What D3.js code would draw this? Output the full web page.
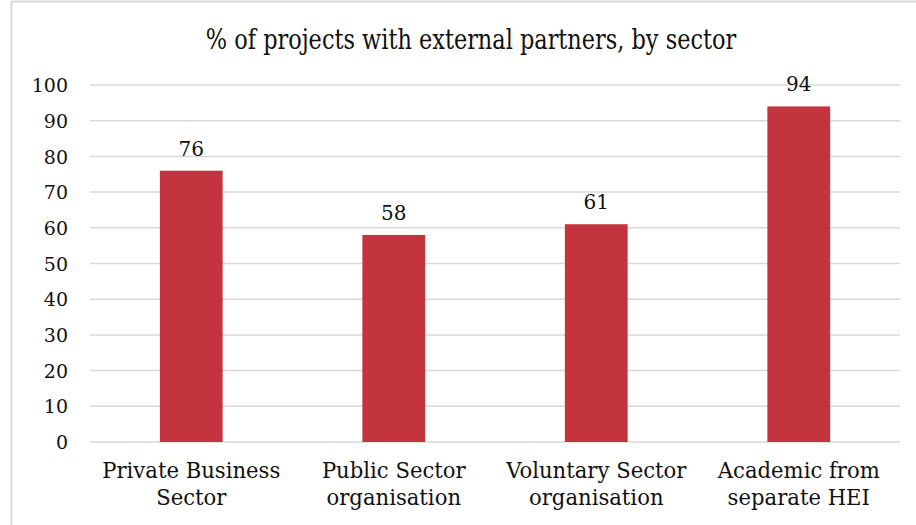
<!DOCTYPE html>
<html>
<head>
<meta charset="utf-8">
<script src="https://cdn.jsdelivr.net/npm/d3@7"></script>
<style>
  html, body { margin: 0; padding: 0; background: #fff; }
  svg { display: block; }
  text { font-family: "DejaVu Serif", serif; fill: #111; }
</style>
</head>
<body>
<svg id="chart" width="916" height="525"></svg>
<script>
// Share of projects with external partners, by partner sector
const categories = [
  ["Private Business", "Sector"],
  ["Public Sector", "organisation"],
  ["Voluntary Sector", "organisation"],
  ["Academic from", "separate HEI"]
];
const values = [76, 58, 61, 94];
const yTicks = [0, 10, 20, 30, 40, 50, 60, 70, 80, 90, 100];
const title = "% of projects with external partners, by sector";

const svg = d3.select("#chart");
const W = 916, H = 525;
const plot = { left: 90, right: 900, top: 85, bottom: 442 };
const FONT = "DejaVu Serif, serif";

// squeeze a text element horizontally to a fraction of its natural width
function condense(sel, k) {
  sel.each(function() {
    const len = this.getComputedTextLength();
    d3.select(this)
      .attr("textLength", len * k)
      .attr("lengthAdjust", "spacingAndGlyphs");
  });
}

// frame of the chart area
svg.append("path")
  .attr("d", `M11.5,${H} V1.5 H${W}`)
  .attr("fill", "none")
  .attr("stroke", "#d9d9d9")
  .attr("stroke-width", 2);

const x = d3.scaleBand()
  .domain(d3.range(categories.length))
  .range([plot.left, plot.right])
  .paddingInner(0.69)
  .paddingOuter(0.345);

const y = d3.scaleLinear()
  .domain([0, 100])
  .range([plot.bottom, plot.top]);

// horizontal gridlines
svg.append("g")
  .selectAll("line")
  .data(yTicks)
  .join("line")
  .attr("x1", plot.left)
  .attr("x2", plot.right)
  .attr("y1", d => y(d))
  .attr("y2", d => y(d))
  .attr("stroke", "#d9d9d9")
  .attr("stroke-width", 1.5);

// y axis labels
const yAxis = d3.axisLeft(y).tickValues(yTicks).tickSize(0).tickPadding(0);
const yg = svg.append("g")
  .attr("transform", `translate(68,0)`)
  .call(yAxis);
yg.select(".domain").remove();
yg.selectAll("text")
  .attr("font-family", FONT)
  .attr("font-size", 19)
  .attr("fill", "#111")
  .attr("dy", "0.35em");

// bars
svg.append("g")
  .selectAll("rect")
  .data(values)
  .join("rect")
  .attr("x", (d, i) => x(i))
  .attr("width", x.bandwidth())
  .attr("y", d => y(d))
  .attr("height", d => y(0) - y(d))
  .attr("fill", "#c3343f");

// value labels
svg.append("g")
  .selectAll("text")
  .data(values)
  .join("text")
  .attr("x", (d, i) => x(i) + x.bandwidth() / 2)
  .attr("y", d => y(d) - 15)
  .attr("text-anchor", "middle")
  .attr("font-size", 20)
  .text(d => d);

// category labels (two lines each)
const xAxis = d3.axisBottom(x).tickSize(0).tickFormat("");
const xg = svg.append("g")
  .attr("transform", `translate(0,${plot.bottom})`)
  .call(xAxis);
xg.select(".domain").remove();
xg.selectAll(".tick").each(function(i) {
  const g = d3.select(this);
  categories[i].forEach((line, k) => {
    g.append("text")
      .attr("class", "cat")
      .attr("x", 0)
      .attr("y", 36 + k * 27)
      .attr("text-anchor", "middle")
      .attr("font-size", 23)
      .attr("font-family", FONT)
      .attr("fill", "#111")
      .text(line);
  });
});
condense(xg.selectAll("text.cat"), 0.92);

// chart title
const t = svg.append("text")
  .attr("x", 471)
  .attr("y", 49)
  .attr("text-anchor", "middle")
  .attr("font-size", 27)
  .text(title);
condense(t, 0.83);
</script>
</body>
</html>
